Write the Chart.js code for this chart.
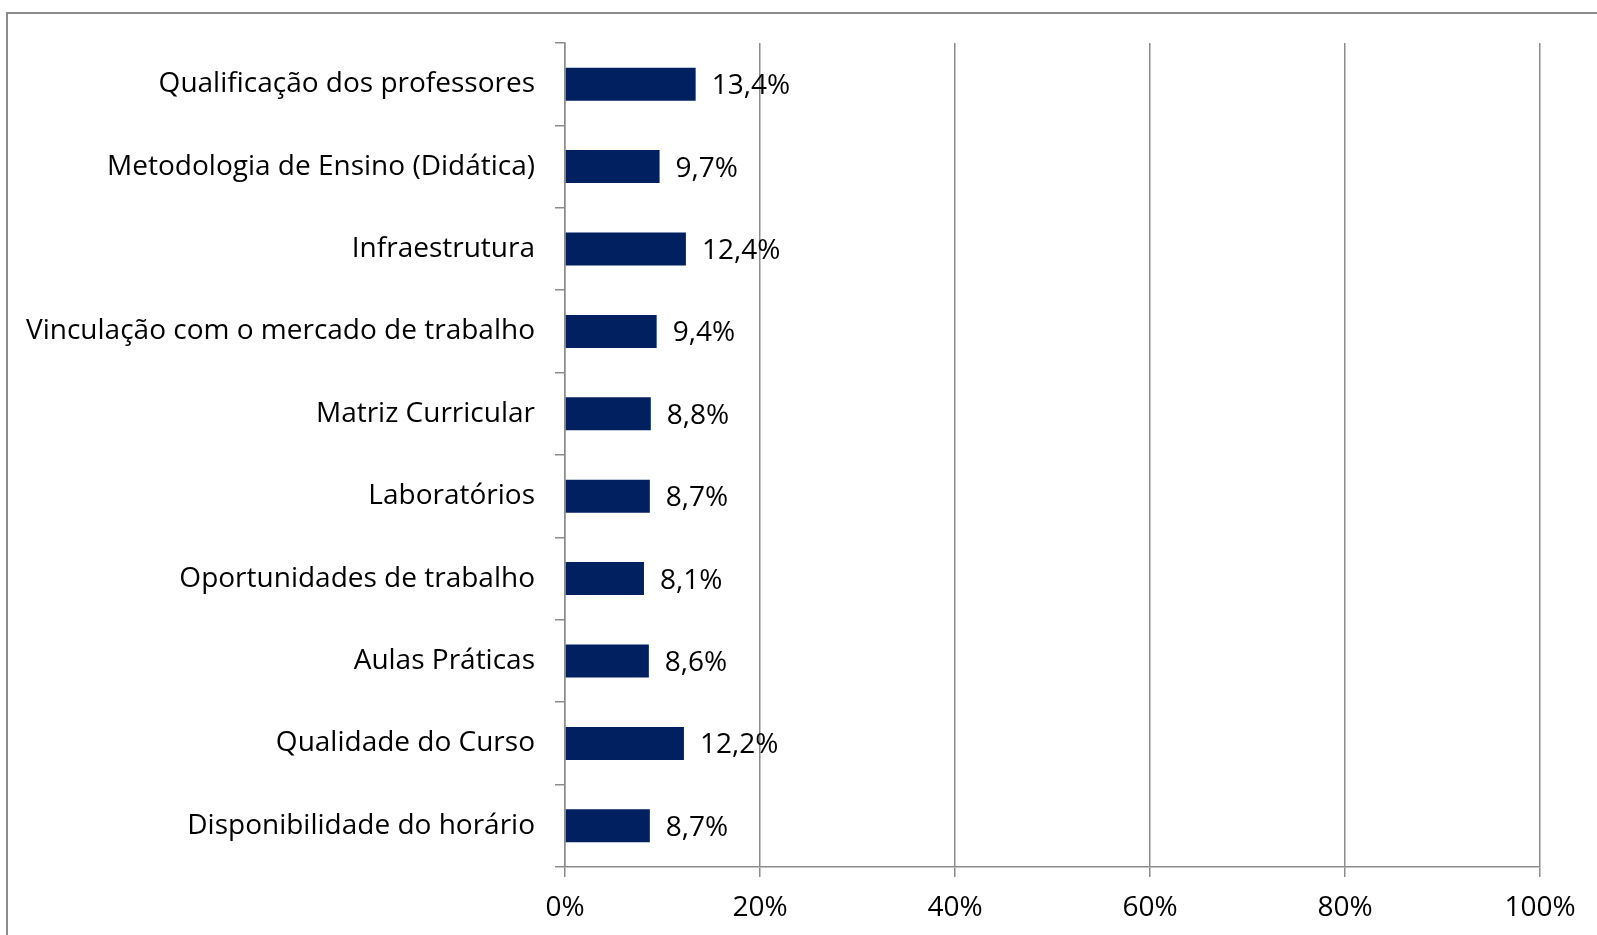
<!DOCTYPE html>
<html>
<head>
<meta charset="utf-8">
<script src="https://cdn.jsdelivr.net/npm/chart.js@4/dist/chart.umd.min.js"></script>
<style>
  html, body { margin: 0; padding: 0; background: #fff; }
  #wrap { position: relative; width: 1597px; height: 935px; overflow: hidden; }
  #frame { position: absolute; left: 6px; top: 12px; width: 1700px; height: 1000px;
           border-left: 2px solid #8c8c8c; border-top: 2px solid #8c8c8c; }
  canvas { position: absolute; left: 0; top: 0; }
</style>
</head>
<body>
<div id="wrap">
  <div id="frame"></div>
  <canvas id="chart" width="1597" height="935"></canvas>
</div>
<script>
const categories = [
  "Qualificação dos professores",
  "Metodologia de Ensino (Didática)",
  "Infraestrutura",
  "Vinculação com o mercado de trabalho",
  "Matriz Curricular",
  "Laboratórios",
  "Oportunidades de trabalho",
  "Aulas Práticas",
  "Qualidade do Curso",
  "Disponibilidade do horário"
];
const values = [13.4, 9.7, 12.4, 9.4, 8.8, 8.7, 8.1, 8.6, 12.2, 8.7];
const xTicks = [0, 20, 40, 60, 80, 100];

const FONT = "'Open Sans', sans-serif";
const GRID = "#8c8c8c";

function fmt(v) {
  return v.toFixed(1).replace(".", ",") + "%";
}

// --- DATA LABELS ---
const barLabels = {
  id: "barLabels",
  afterDatasetsDraw(chart) {
    const ctx = chart.ctx;
    const meta = chart.getDatasetMeta(0);
    ctx.save();
    ctx.font = "28px " + FONT;
    ctx.fillStyle = "#000";
    ctx.textAlign = "left";
    ctx.textBaseline = "middle";
    meta.data.forEach((bar, i) => {
      ctx.fillText(fmt(values[i]), bar.x + 16, bar.y + 2);
    });
    ctx.restore();
  }
};

new Chart(document.getElementById("chart"), {
  type: "bar",
  data: {
    labels: categories,
    datasets: [{
      data: values,
      backgroundColor: "#002060",
      borderWidth: 0,
      barPercentage: 0.8,
      categoryPercentage: 0.5
    }]
  },
  options: {
    indexAxis: "y",
    responsive: false,
    animation: false,
    layout: { padding: { top: 43, right: 57, left: 0, bottom: 0 } },
    plugins: {
      legend: { display: false },
      tooltip: { enabled: false }
    },
    scales: {
      x: {
        min: 0,
        max: 100,
        afterBuildTicks: s => { s.ticks = xTicks.map(v => ({ value: v })); },
        afterFit: s => { s.height = 68; },
        grid: { color: GRID, lineWidth: 1.5, tickLength: 10 },
        border: { display: true, color: GRID, width: 1.5 },
        ticks: {
          color: "#000",
          padding: 14,
          font: { family: FONT, size: 28 },
          callback: v => v + "%"
        }
      },
      y: {
        afterFit: s => { s.width = 565; },
        grid: { offset: true, drawOnChartArea: false, color: GRID, lineWidth: 1.5, tickLength: 10 },
        border: { display: true, color: GRID, width: 1.5 },
        ticks: {
          color: "#000",
          padding: 20,
          font: { family: FONT, size: 28 }
        }
      }
    }
  },
  plugins: [barLabels]
});
</script>
</body>
</html>
